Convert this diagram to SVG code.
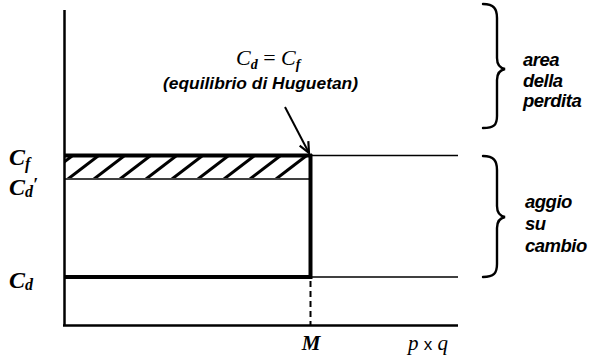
<svg xmlns="http://www.w3.org/2000/svg" width="595" height="364" viewBox="0 0 595 364">
<style>
.ax{stroke:#000;stroke-width:2.5;fill:none}
.thick{stroke:#000;stroke-width:4;fill:none}
.thin{stroke:#000;stroke-width:1.6;fill:none}
.hatch{stroke:#000;stroke-width:3}
.brace{stroke:#000;stroke-width:2.4;fill:none;stroke-linecap:round}
.math{font-family:"Liberation Serif","Times New Roman",serif;font-style:italic;fill:#000}
.lab{font-family:"Liberation Sans",Arial,sans-serif;font-style:italic;font-weight:bold;fill:#000}
.side{font-size:18.5px;letter-spacing:-0.5px}
</style>
<defs>
<clipPath id="hc"><rect x="65" y="157" width="244" height="21"/></clipPath>
<marker id="arr" viewBox="0 0 12 12" refX="11" refY="6" markerWidth="13" markerHeight="13" markerUnits="userSpaceOnUse" orient="auto">
<path d="M1,1.5 L11,6 L1,10.5" fill="none" stroke="#000" stroke-width="2"/>
</marker>
</defs>
<rect width="595" height="364" fill="#fff"/>
<g id="axes">
<line class="ax" x1="64.5" y1="10" x2="64.5" y2="326"/>
<line class="ax" x1="63" y1="325.5" x2="458" y2="325.5"/>
</g>
<g id="hatch-area" clip-path="url(#hc)">
<line class="hatch" x1="42" y1="179" x2="72" y2="156"/>
<line class="hatch" x1="68" y1="179" x2="98" y2="156"/>
<line class="hatch" x1="94" y1="179" x2="124" y2="156"/>
<line class="hatch" x1="120" y1="179" x2="150" y2="156"/>
<line class="hatch" x1="146" y1="179" x2="176" y2="156"/>
<line class="hatch" x1="172" y1="179" x2="202" y2="156"/>
<line class="hatch" x1="198" y1="179" x2="228" y2="156"/>
<line class="hatch" x1="224" y1="179" x2="254" y2="156"/>
<line class="hatch" x1="250" y1="179" x2="280" y2="156"/>
<line class="hatch" x1="276" y1="179" x2="306" y2="156"/>
</g>
<g id="lines">
<line class="thick" x1="64" y1="155.5" x2="312" y2="155.5"/>
<line class="thin" x1="311" y1="155.5" x2="458" y2="155.5"/>
<line class="thin" x1="64" y1="179" x2="311" y2="179"/>
<line class="thick" x1="64" y1="277" x2="312" y2="277"/>
<line class="thin" x1="311" y1="277" x2="458" y2="277"/>
<line class="thick" x1="310.5" y1="154" x2="310.5" y2="279"/>
<line x1="310.5" y1="281" x2="310.5" y2="325" stroke="#000" stroke-width="2" stroke-dasharray="6,4"/>
</g>
<g id="connectors">
<line x1="285" y1="107" x2="309" y2="153" stroke="#000" stroke-width="2" marker-end="url(#arr)"/>
</g>
<g id="braces">
<path class="brace" d="M483,4 C494,4 497,9 497,18 L497,58 C497,65 500,68 505,69 C500,70 497,73 497,80 L497,116 C497,125 494,128 483,128"/>
<path class="brace" d="M483,156 C494,156 497,161 497,170 L497,206 C497,213 500,216 505,217 C500,218 497,221 497,228 L497,264 C497,273 494,277 483,277"/>
</g>
<g id="label-eq">
<text class="math" x="236" y="65" font-size="22">C<tspan font-size="14" dy="4" font-weight="bold">d</tspan><tspan dy="-4" font-style="normal"> = </tspan>C<tspan font-size="14" dy="4" font-weight="bold">f</tspan></text>
<text class="lab" x="163" y="89" font-size="16" textLength="195" lengthAdjust="spacingAndGlyphs">(equilibrio di Huguetan)</text>
</g>
<g id="label-y">
<text class="math" x="9" y="165" font-size="24" font-weight="bold">C<tspan font-size="16" dy="4">f</tspan></text>
<text class="math" x="9" y="195" font-size="24" font-weight="bold">C<tspan font-size="16" dy="2">d</tspan><tspan font-size="18" dy="-6">′</tspan></text>
<text class="math" x="9" y="288" font-size="24" font-weight="bold">C<tspan font-size="16" dy="2">d</tspan></text>
</g>
<g id="label-x">
<text class="math" x="311" y="350" font-size="21" font-weight="bold" text-anchor="middle">M</text>
<text class="math" x="408" y="350" font-size="21">p <tspan font-style="normal" font-family="'Liberation Sans',Arial,sans-serif" font-size="17">x</tspan> q</text>
</g>
<g id="label-loss">
<text class="lab side" x="523" y="66">area</text>
<text class="lab side" x="523" y="87">della</text>
<text class="lab side" x="523" y="107">perdita</text>
</g>
<g id="label-gain">
<text class="lab side" x="525" y="208">aggio</text>
<text class="lab side" x="525" y="230">su</text>
<text class="lab side" x="525" y="252">cambio</text>
</g>
</svg>
